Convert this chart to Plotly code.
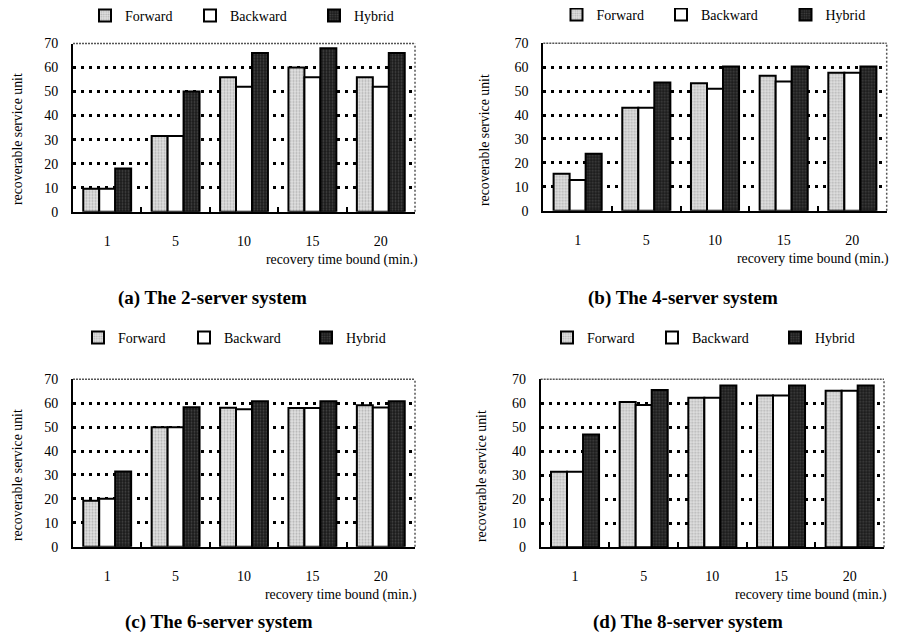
import plotly.graph_objects as go

W, H = 898, 636
# the page places the figure 8px in from the top-left corner (default body margin)
OFF = 8

categories = ["1", "5", "10", "15", "20"]
series_names = ["Forward", "Backward", "Hybrid"]

# panel (a) 2-server
a_forward = [9.5, 31.5, 56, 60, 56]
a_backward = [9.5, 31.5, 52, 56, 52]
a_hybrid = [18, 50, 66, 68, 66]
# panel (b) 4-server
b_forward = [15.5, 43, 53.3, 56.4, 57.7]
b_backward = [12.8, 43, 51, 54, 57.7]
b_hybrid = [23.8, 53.6, 60.3, 60.3, 60.3]
# panel (c) 6-server
c_forward = [19.2, 50, 58.1, 58, 59.2]
c_backward = [20.1, 50, 57.5, 58, 58.2]
c_hybrid = [31.4, 58.3, 60.8, 60.8, 60.8]
# panel (d) 8-server
d_forward = [31.5, 60.5, 62.3, 63.3, 65.2]
d_backward = [31.5, 59.3, 62.3, 63.3, 65.2]
d_hybrid = [47, 65.5, 67.4, 67.4, 67.4]

y_ticks = [0, 10, 20, 30, 40, 50, 60, 70]
subtitles = ["(a) The 2-server system", "(b) The 4-server system",
             "(c) The 6-server system", "(d) The 8-server system"]
x_title = "recovery time bound (min.)"
y_title = "recoverable service unit"

panels = [
    (a_forward, a_backward, a_hybrid),
    (b_forward, b_backward, b_hybrid),
    (c_forward, c_backward, c_hybrid),
    (d_forward, d_backward, d_hybrid),
]

FONT = "Liberation Serif"

# layout geometry in screen pixels
plot_px = [
    dict(x0=73, x1=415, y0=43.5, y1=211.7),
    dict(x0=543.3, x1=886.7, y0=43.3, y1=210.7),
    dict(x0=73, x1=415, y0=379.3, y1=546.7),
    dict(x0=540.7, x1=884, y0=379.3, y1=547.3),
]
# legend swatch centres per panel (Forward, Backward, Hybrid) and row centre y
legend_px = [
    ([106, 211, 335], 16),
    ([577.5, 682, 806.5], 15),
    ([99, 205, 327], 338),
    ([568, 673, 796], 338),
]
subtitle_px = [(212, 298), (683, 298), (219, 622), (688, 622)]
# y-title: (x, anchor, y)
ytitle_px = [(8.5, "left", 139), (485, "center", 140), (8.5, "left", 475), (482, "center", 476)]
xtitle_px = [(420, 260), (891, 259), (419, 595), (889, 595)]

def px_x(x):
    return (x - OFF) / W

def px_y(y):
    return 1 - (y - OFF) / H

styles = {
    "Forward": dict(color="#d4d4d4", pattern=dict(shape=".", fgcolor="#808080", bgcolor="#e2e2e2", size=3, solidity=0.4)),
    "Backward": dict(color="white"),
    "Hybrid": dict(color="#222222", pattern=dict(shape=".", fgcolor="#707070", bgcolor="#1a1a1a", size=3, solidity=0.35)),
}

fig = go.Figure()
annotations = []
shapes = []
layout_updates = {}

legend_idx = 0
for i, vals in enumerate(panels):
    n = i + 1
    xa = "x" if n == 1 else f"x{n}"
    ya = "y" if n == 1 else f"y{n}"
    xs, ly = legend_px[i]
    for j, (name, v) in enumerate(zip(series_names, vals)):
        legend_idx += 1
        lg = "legend" if legend_idx == 1 else f"legend{legend_idx}"
        st = styles[name]
        marker = dict(color=st["color"], line=dict(color="black", width=2))
        if "pattern" in st:
            marker["pattern"] = st["pattern"]
        fig.add_trace(go.Bar(
            x=categories, y=v, name=name, marker=marker,
            xaxis=xa, yaxis=ya, legend=lg, showlegend=True,
        ))
        layout_updates[lg] = dict(
            orientation="h", x=px_x(xs[j] - 21), xanchor="left",
            y=px_y(ly), yanchor="middle",
            font=dict(family=FONT, size=14, color="black"),
            bgcolor="rgba(0,0,0,0)", borderwidth=0,
        )
    g = plot_px[i]
    xdom = [px_x(g["x0"]), px_x(g["x1"])]
    ydom = [px_y(g["y1"]), px_y(g["y0"])]
    xkey = "xaxis" if n == 1 else f"xaxis{n}"
    ykey = "yaxis" if n == 1 else f"yaxis{n}"
    layout_updates[xkey] = dict(
        domain=xdom, anchor=ya, type="category",
        showline=True, linecolor="black", linewidth=2,
        ticks="inside", ticklen=5, tickwidth=2, tickcolor="black",
        tickson="boundaries", ticklabelstandoff=15,
        tickfont=dict(family=FONT, size=14, color="black"),
        showgrid=False, zeroline=False, fixedrange=True)
    layout_updates[ykey] = dict(
        domain=ydom, anchor=xa, range=[0, 70],
        tickvals=y_ticks, ticktext=[str(t) for t in y_ticks],
        showline=True, linecolor="black", linewidth=2,
        ticks="", ticklabelstandoff=10,
        tickfont=dict(family=FONT, size=14, color="black"),
        showgrid=True, gridcolor="black", gridwidth=2.5,
        griddash="3px,5px", zeroline=False, fixedrange=True)
    # dotted top and right frame
    shapes.append(dict(type="line", xref=f"{xa} domain", yref=f"{ya} domain",
                       x0=0, x1=1, y0=1, y1=1,
                       line=dict(color="#555555", width=1.5, dash="2px,1px")))
    shapes.append(dict(type="line", xref=f"{xa} domain", yref=f"{ya} domain",
                       x0=1, x1=1, y0=0, y1=1,
                       line=dict(color="#555555", width=1.5, dash="2px,2px")))
    sx, sy = subtitle_px[i]
    annotations.append(dict(text=f"<b>{subtitles[i]}</b>", x=px_x(sx), y=px_y(sy),
                            xref="paper", yref="paper", showarrow=False,
                            xanchor="center", yanchor="middle",
                            font=dict(family=FONT, size=19, color="black")))
    tx, tanchor, ty = ytitle_px[i]
    annotations.append(dict(text=y_title, x=px_x(tx), y=px_y(ty), textangle=-90,
                            xref="paper", yref="paper", showarrow=False,
                            xanchor=tanchor, yanchor="middle", borderpad=0,
                            font=dict(family=FONT, size=13.8, color="black")))
    xx, xy = xtitle_px[i]
    annotations.append(dict(text=x_title, x=px_x(xx), y=px_y(xy),
                            xref="paper", yref="paper", showarrow=False,
                            xanchor="right", yanchor="middle",
                            font=dict(family=FONT, size=13.8, color="black")))

fig.update_layout(**layout_updates)
fig.update_layout(
    width=W, height=H,
    margin=dict(l=0, r=0, t=0, b=0, autoexpand=False),
    paper_bgcolor="white", plot_bgcolor="white",
    barmode="group", bargap=0.3, bargroupgap=0,
    annotations=annotations, shapes=shapes,
    font=dict(family=FONT, color="black"),
)

fig.write_html("out.html", config={"displayModeBar": False})
